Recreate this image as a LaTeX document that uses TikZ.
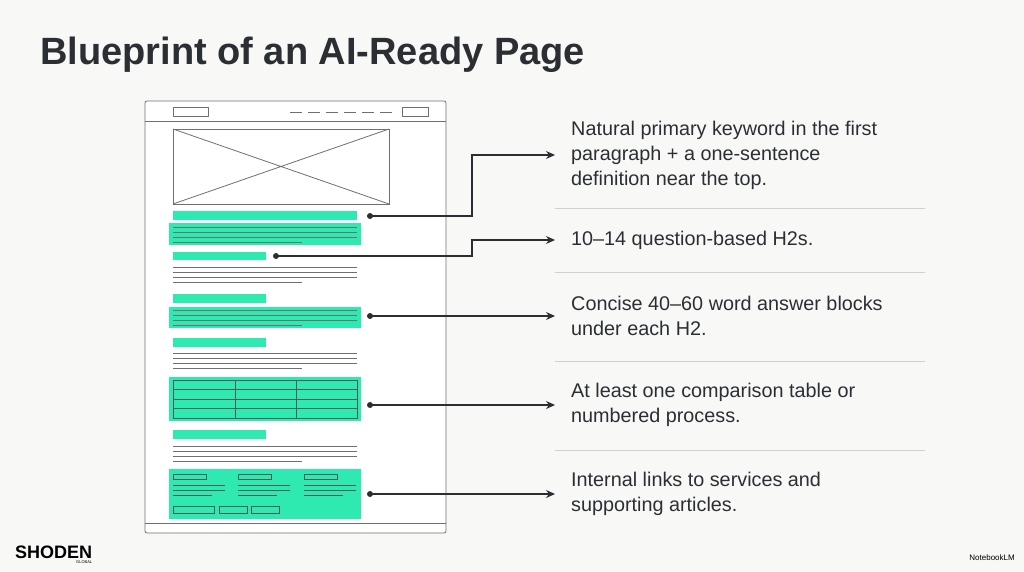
\documentclass[tikz,border=0pt]{standalone}
\usepackage{fontspec}
\setmainfont{Liberation Sans}
\usepackage{tikz}
\usetikzlibrary{positioning,arrows.meta}
\definecolor{ink}{HTML}{2B2F33}
\definecolor{wire}{HTML}{6E7072}
\definecolor{mint}{HTML}{2EEAB0}
\definecolor{paper}{HTML}{F8F8F7}
\tikzset{wf/.style={draw=wire,line width=0.8pt},
  bar/.style={fill=mint,draw=none},
  txt/.style={anchor=west,align=left,text=ink,font=\fontsize{19.8}{25}\selectfont,inner xsep=0pt},
  dot/.style={circle,fill=ink,inner sep=0pt,minimum size=6pt},
  sep/.style={draw=black!18,line width=0.6pt}}
\begin{document}
\begin{tikzpicture}[x=1pt,y=-1pt,>={Stealth[length=9pt,width=8pt]}]
  \fill[paper] (0,0) rectangle (1024,572);
  \useasboundingbox (0,0) rectangle (1024,572);
  \node[anchor=west,text=ink,font=\fontsize{38}{40}\selectfont\bfseries,inner sep=0pt] (title) at (40,55) {Blueprint of an AI-Ready Page};
  % page frame
  \draw[wf,rounded corners=2pt,fill=white] (145,101) rectangle (446,533);
  \draw[wf] (145,121) -- (446,121);
  \draw[wf] (145,523) -- (446,523);
  \draw[wf] (173,107) rectangle (208,116);
  \draw[wf] (402,107) rectangle (428,116);
  \draw[wf,dash pattern=on 12pt off 6pt] (290,112) -- (396,112);
  \draw[wf] (173,129) rectangle (389,204);
  \draw[wf] (173,129) -- (389,204) (173,204) -- (389,129);
  % section 1
  \fill[bar] (173,211) rectangle (357,220);
  \fill[bar] (169,223) rectangle (361,245);
  \foreach \y in {227,232,237} \draw[wf] (173,\y) -- (357,\y);
  \draw[wf] (173,242) -- (302,242);
  % section 2
  \fill[bar] (173,252) rectangle (266,260);
  \foreach \y in {267,272,277} \draw[wf] (173,\y) -- (357,\y);
  \draw[wf] (173,282) -- (302,282);
  % section 3
  \fill[bar] (173,294) rectangle (266,303);
  \fill[bar] (169,307) rectangle (361,328);
  \foreach \y in {310,315,320} \draw[wf] (173,\y) -- (357,\y);
  \draw[wf] (173,325) -- (302,325);
  \fill[bar] (173,338) rectangle (266,347);
  \foreach \y in {353,358,363} \draw[wf] (173,\y) -- (357,\y);
  \draw[wf] (173,368) -- (302,368);
  % table
  \fill[bar] (169,377) rectangle (361,421);
  \draw[wf,draw=ink!80] (173,380) rectangle (357,418);
  \foreach \y in {389,399,408} \draw[wf,draw=ink!80] (173,\y) -- (357,\y);
  \foreach \x in {235,296} \draw[wf,draw=ink!80] (\x,380) -- (\x,418);
  \fill[bar] (173,430) rectangle (266,439);
  \foreach \y in {446,451,456} \draw[wf] (173,\y) -- (357,\y);
  \draw[wf] (173,461) -- (302,461);
  % links block
  \fill[bar] (169,469) rectangle (361,519);
  \foreach \x in {173,238,304} {
    \draw[wf,draw=ink!80] (\x,474) rectangle (\x+33,479);
    \draw[wf,draw=ink!80] (\x,485) -- (\x+52,485) (\x,490) -- (\x+52,490) (\x,495) -- (\x+39,495);
  }
  \draw[wf,draw=ink!80] (173,506) rectangle (214,513);
  \draw[wf,draw=ink!80] (219,506) rectangle (247,513);
  \draw[wf,draw=ink!80] (251,506) rectangle (279,513);
  % callouts
  \node[txt] (t1) at (571,155) {Natural primary keyword in the first\\paragraph + a one-sentence\\definition near the top.};
  \node[txt] (t2) at (571,240) {10--14 question-based H2s.};
  \node[txt] (t3) at (571,316) {Concise 40--60 word answer blocks\\under each H2.};
  \node[txt] (t4) at (571,405) {At least one comparison table or\\numbered process.};
  \node[txt] (t5) at (571,494) {Internal links to services and\\supporting articles.};
  \node[dot] (d1) at (370,216) {};
  \node[dot] (d2) at (276,256) {};
  \node[dot] (d3) at (370,316) {};
  \node[dot] (d4) at (370,405) {};
  \node[dot] (d5) at (370,494) {};
  \draw[->,ink,line width=1.1pt] (d1.center) -- (472,216) |- ([xshift=-16pt]t1.west);
  \draw[->,ink,line width=1.1pt] (d2.center) -- (472,256) |- ([xshift=-16pt]t2.west);
  \foreach \i in {3,4,5}
    \draw[->,ink,line width=1.1pt] (d\i.center) -- ([xshift=-16pt]t\i.west);
  \foreach \y in {208,272,361,450} \draw[sep] (555,\y) -- (925,\y);
  % footer marks
  \node[anchor=west,text=black,font=\fontsize{18}{18}\selectfont\bfseries,inner sep=0pt] (logo) at (15,552) {SHODEN};
  \node[anchor=north east,font=\fontsize{4}{4}\selectfont,inner sep=0pt] (glob) at ([yshift=-2pt]logo.south east) {GLOBAL};
  \node[anchor=east,font=\fontsize{8}{8}\selectfont,inner sep=0pt] (nlm) at (1015,558) {NotebookLM};
\end{tikzpicture}
\end{document}
